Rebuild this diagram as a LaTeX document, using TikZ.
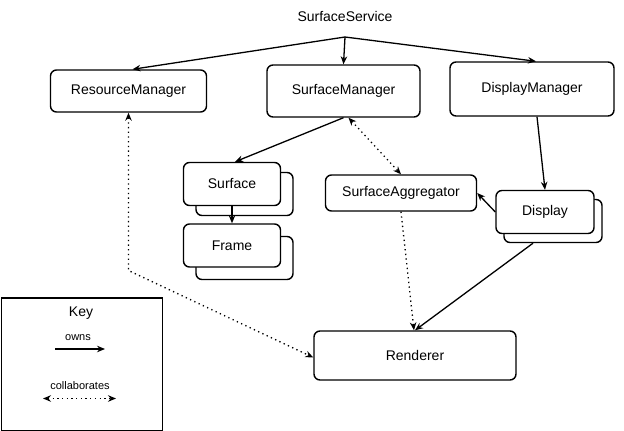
\documentclass[tikz,border=0pt]{standalone}
\usepackage{fontspec}
\setmainfont{Liberation Sans}
\usetikzlibrary{arrows.meta}
\begin{document}
\begin{tikzpicture}[x=1pt,y=-1pt,
  txt/.style={font=\fontsize{14}{16}\selectfont, inner sep=0pt},
  small/.style={font=\fontsize{11}{13}\selectfont, inner sep=0pt},
  box/.style={draw, line width=1.4pt, rounded corners=6pt, fill=white, txt},
  own/.style={-{Stealth[length=8pt,width=6.5pt]}, line width=1.3pt},
  collab/.style={{Stealth[length=8pt,width=6.5pt]}-{Stealth[length=8pt,width=6.5pt]}, line width=1.3pt, dash pattern=on 1.3pt off 3.4pt},
  dot1/.style={-{Stealth[length=8pt,width=6.5pt]}, line width=1.3pt, dash pattern=on 1.3pt off 3.4pt},
]
\useasboundingbox (0,0) rectangle (624,431);
% title
\node[txt] (ss) at (345,16) {SurfaceService};
\coordinate (br) at (345,37);
% managers
\node[box, minimum width=156pt, minimum height=42pt] (rm) at (128.5,91) {ResourceManager};
\node[box, minimum width=153pt, minimum height=52pt] (sm) at (343.5,91) {SurfaceManager};
\node[box, minimum width=164pt, minimum height=54pt] (dm) at (532,89) {DisplayManager};
% Surface (stacked)
\node[box, minimum width=97pt, minimum height=43pt] (surfB) at (244.5,194) {};
\node[box, minimum width=97pt, minimum height=43pt] (surf) at (232,184) {Surface};
% Frame (stacked)
\node[box, minimum width=97pt, minimum height=43pt] (frameB) at (244.5,258) {};
\node[box, minimum width=97pt, minimum height=43pt] (frame) at (232,245.5) {Frame};
% SurfaceAggregator
\node[box, minimum width=151pt, minimum height=36pt] (sa) at (401,193) {SurfaceAggregator};
% Display (stacked)
\node[box, minimum width=98pt, minimum height=43pt] (dispB) at (553,221) {};
\node[box, minimum width=98pt, minimum height=43pt] (disp) at (545,212) {Display};
% Renderer
\node[box, minimum width=202pt, minimum height=49pt] (ren) at (415,355.5) {Renderer};
% key
\node[draw, line width=1.4pt, minimum width=161pt, minimum height=132.6pt, anchor=north west, inner sep=0pt] (key) at (0.7,297.3) {};
\node[txt] (keyt) at (81,313) {Key};
\node[small] (ownst) at (78,338) {owns};
\coordinate (o1) at (55,349);
\coordinate (o2) at (105,349);
\draw[own] (o1) -- (o2);
\node[small] (colt) at (80,386) {collaborates};
\coordinate (c1) at (43,398.5);
\coordinate (c2) at (116,398.5);
\draw[collab] (c1) -- (c2);
% ownership arrows
\draw[own] (br) -- ([xshift=4pt]rm.north);
\draw[own] (br) -- (sm.north);
\draw[own] (br) -- ([xshift=4pt]dm.north);
\draw[own] (sm.south) -- ([xshift=3pt]surf.north);
\draw[own] (surf.south) -- (frame.north);
\draw[own] ([xshift=5pt]dm.south) -- (disp.north);
\draw[own] (disp.west) -- (sa.east);
\draw[own] ([xshift=-20pt]dispB.south) -- (ren.north);
% collaboration arrows
\draw[collab] ([xshift=5pt]sm.south) -- (sa.north);
\draw[dot1] (sa.south) -- ([xshift=-1pt]ren.north);
\coordinate (bend) at (128.5,270.5);
\draw[collab] (rm.south) -- (bend) -- ([yshift=-2pt]ren.west);
\end{tikzpicture}
\end{document}
